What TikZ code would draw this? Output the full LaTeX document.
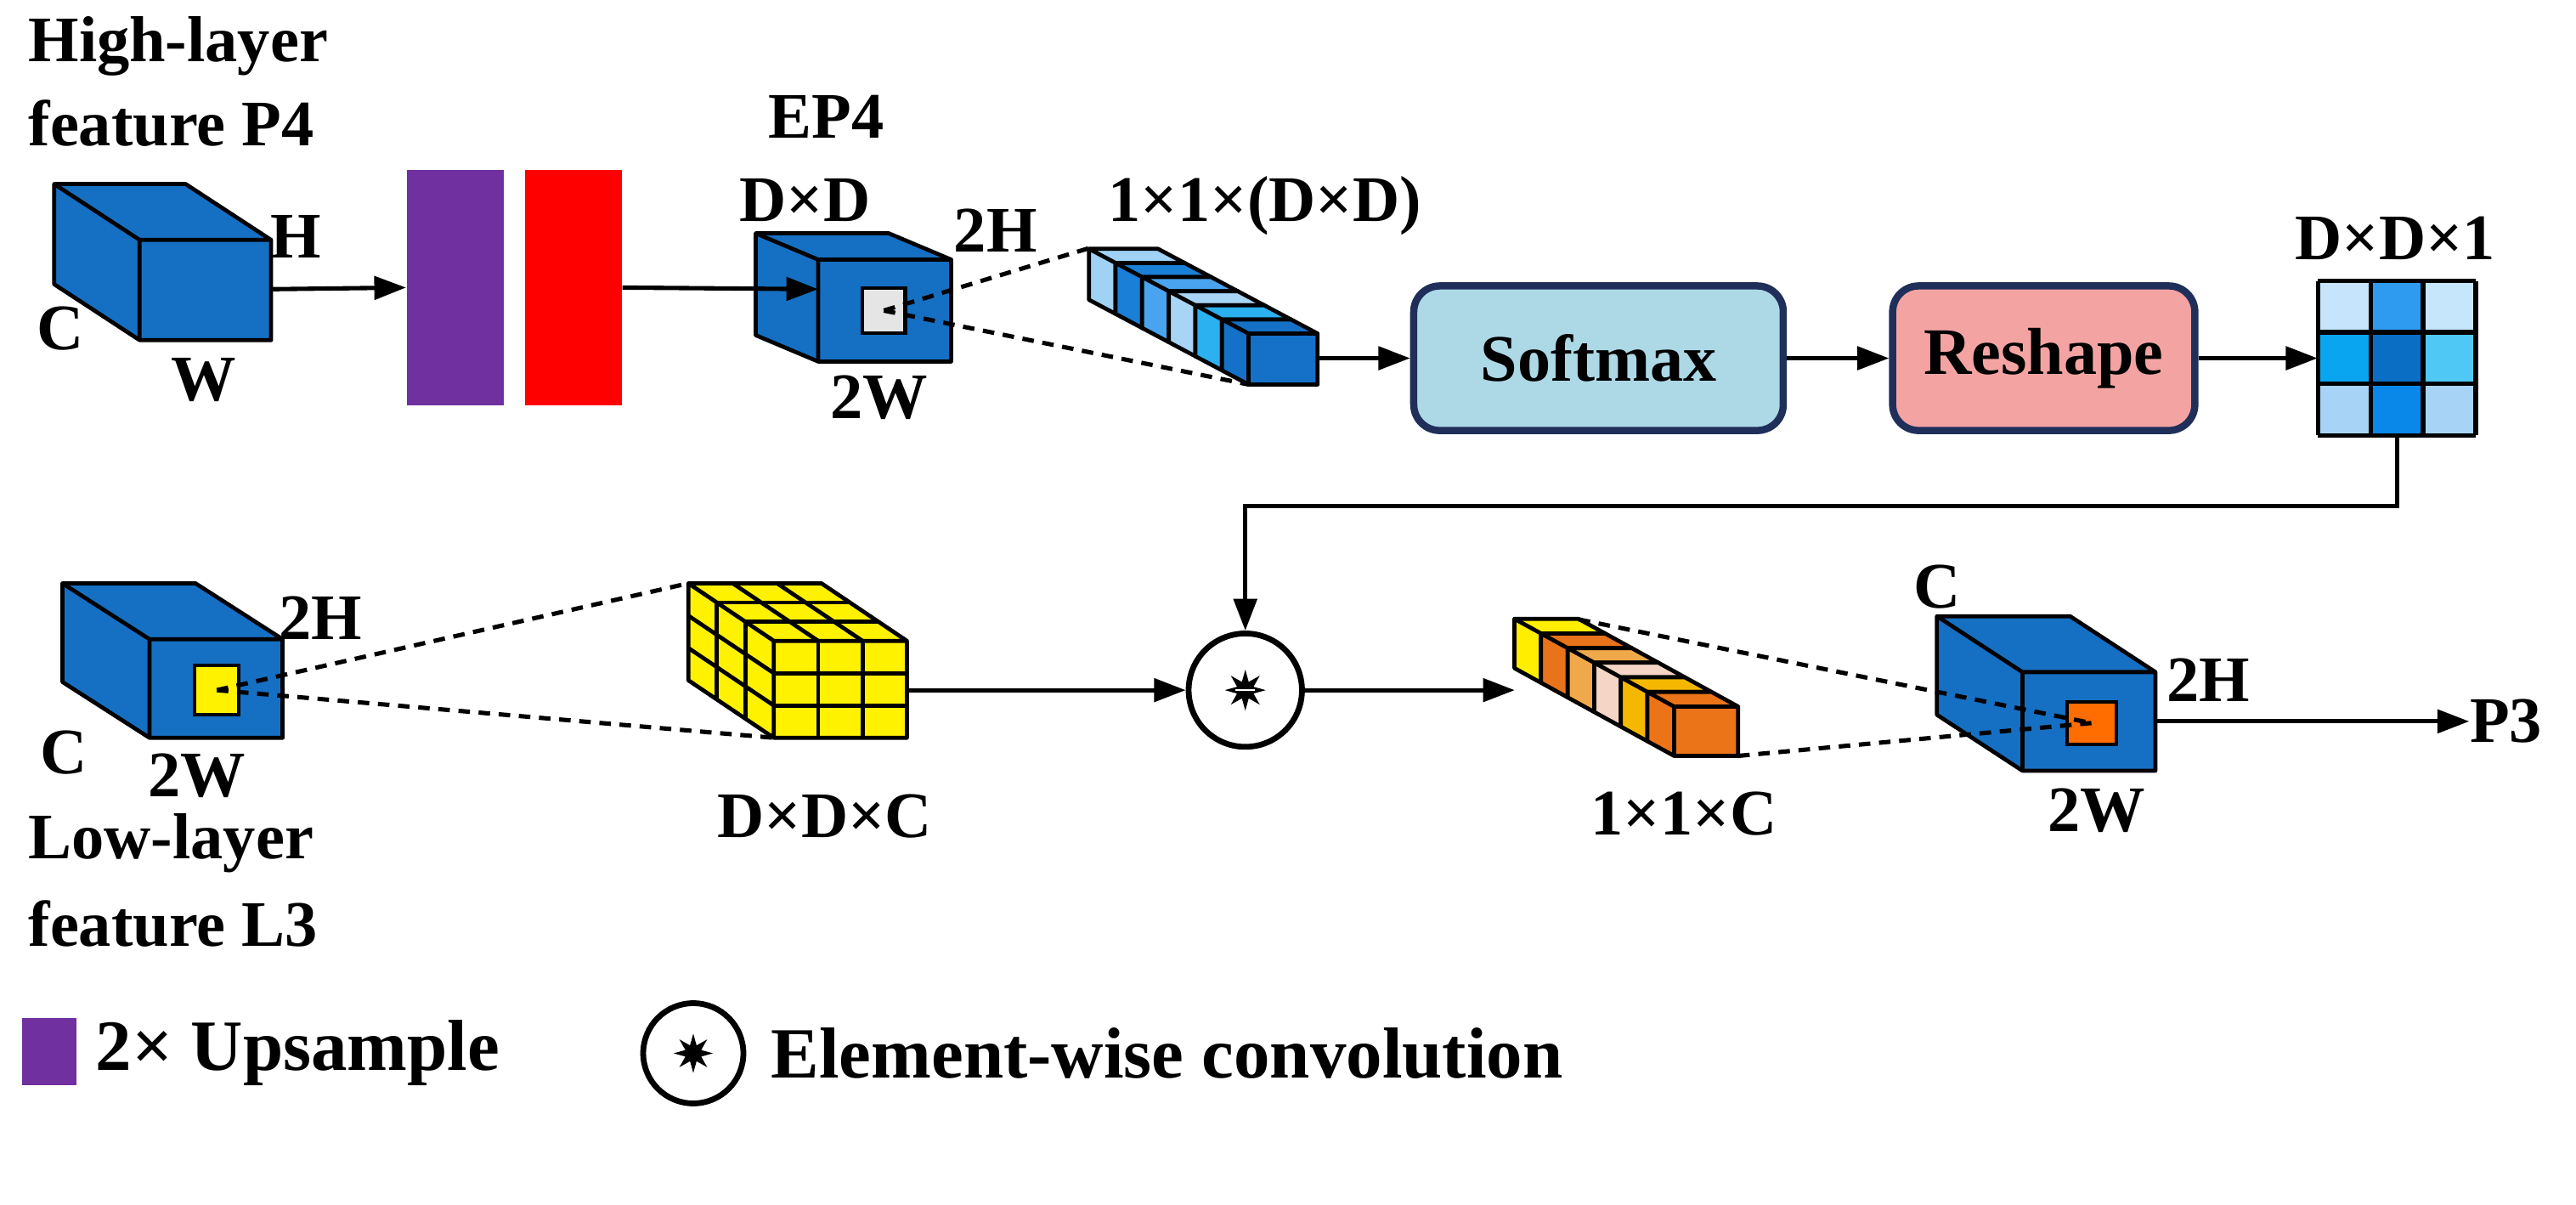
\documentclass[tikz,border=0pt]{standalone}
\usepackage{fontspec}
\setmainfont{Liberation Serif}
\usetikzlibrary{arrows.meta,shapes.geometric}
\definecolor{cubeblue}{HTML}{1570C4}
\definecolor{navy}{HTML}{1F2F5A}
\definecolor{upsp}{HTML}{7030A0}
\definecolor{softc}{HTML}{ADD8E6}
\definecolor{reshc}{HTML}{F4A3A3}
\newcommand\mycube[7]{% fx1 fy1 fx2 fy2 dx dy color
  \filldraw[fill=#7,draw=black,line width=1.4pt,line join=round]
   (#1-#5,#2-#6) -- (#3-#5,#2-#6) -- (#3,#2) -- (#1,#2) -- cycle
   (#1-#5,#2-#6) -- (#1,#2) -- (#1,#4) -- (#1-#5,#4-#6) -- cycle
   (#1,#2) rectangle (#3,#4);}
\begin{document}
\begin{tikzpicture}[x=0.02cm,y=-0.02cm,
  lbl/.style={font=\fontsize{22.5}{26}\selectfont\bfseries,inner sep=0pt},
  lgd/.style={font=\fontsize{25}{29}\selectfont\bfseries,inner sep=0pt},
  arr/.style={line width=1.5pt,-{Triangle[length=11pt,width=8pt]}},
  dsh/.style={line width=1.5pt,dash pattern=on 4pt off 3pt},
  box/.style={draw=navy,line width=2.5pt,rounded corners=9pt,minimum width=4.5cm,minimum height=1.76cm,font=\fontsize{23}{26}\selectfont\bfseries}]
\useasboundingbox (0,0) rectangle (1568,733);
% ---------- labels top-left
\node[lbl,anchor=west] (hl) at (17,28) {High-layer};
\node[lbl,anchor=west] (fp) at (17,75) {feature P4};
% P4 cube
\mycube{85}{146}{165}{207}{52}{34}{cubeblue}
\coordinate (p4r) at (165,176);
\node[lbl] (lH) at (180,144) {H};
\node[lbl] (lC) at (37,200) {C};
\node[lbl] (lW) at (124,231) {W};
% upsample & red
\node[fill=upsp,minimum width=1.18cm,minimum height=2.86cm,inner sep=0] (up) at (277,175) {};
\node[fill=red,minimum width=1.18cm,minimum height=2.86cm,inner sep=0] (rd) at (349,175) {};
\draw[arr] (p4r) -- (up.west);
% EP4 cube
\mycube{498}{158}{579}{220}{38}{16}{cubeblue}
\coordinate (ep4l) at (498,176);
\draw[arr] (rd.east) -- (ep4l);
\node[fill=gray!20,draw=black,line width=1.2pt,minimum width=0.52cm,minimum height=0.54cm,inner sep=0] (gs) at (538,189) {};
\node[lbl] (ep4) at (503,71) {EP4};
\node[lbl] (dd) at (490,122) {D×D};
\node[lbl] (l2h) at (606,140) {2H};
\node[lbl] (l2w) at (535,242) {2W};
% blue bar
\foreach \i/\c in {0/9FD2F5,1/1A7FD6,2/4AA3EE,3/A8D4F5,4/2BB0F0,5/1570C8}{
  \definecolor{tmp}{HTML}{\c}
  \pgfmathsetmacro\fx{760-(5-\i)*16.2}\pgfmathsetmacro\fy{203-(5-\i)*8.6}
  \mycube{\fx}{\fy}{\fx+42}{\fy+31}{16.2}{8.6}{tmp}}
\coordinate (bbTL) at (663,151);
\coordinate (bbBL) at (760,234);
\coordinate (bbR) at (802,218);
\draw[dsh] (gs.center) -- (bbTL);
\draw[dsh] (gs.center) -- (bbBL);
\node[lbl] (l11dd) at (770,125) {1×1×(D×D)};
% softmax/reshape
\node[box,fill=softc] (sm) at (973,218) {Softmax};
\node[box,fill=reshc,minimum width=3.68cm] (rs) at (1244,218) {Reshape};
\draw[arr] (bbR) -- (sm.west);
\draw[arr] (sm.east) -- (rs.west);
% grid
\foreach \r/\cl in {0/{C6E4FB,2E9BF0,C6E6FB},1/{0AA5F0,0A6FC4,4FC8F5},2/{A7D3F7,0A88EA,A7D3F7}}{
  \foreach \c [count=\k from 0] in \cl {
    \definecolor{tmp}{HTML}{\c}
    \fill[tmp] (1411+\k*32,171+\r*31.3) rectangle ++(32,31.3);}}
\foreach \t in {0,1,2,3}{
  \draw[line width=1.6pt] (1411+\t*32,171) -- ++(0,94);
  \draw[line width=1.6pt] (1411,171+\t*31.3) -- ++(96,0);}
\node[inner sep=0,minimum width=1.92cm,minimum height=1.88cm] (grid) at (1459,218) {};
\draw[arr] (rs.east) -- (grid.west);
\node[lbl] (ddd1) at (1458,145) {D×D×1};
% ---------- row 2
\node[lbl,anchor=west] (ll) at (17,513) {Low-layer};
\node[lbl,anchor=west] (fl) at (17,562) {feature L3};
\mycube{91}{389}{172}{449}{53}{34}{cubeblue}
\node[fill=yellow,draw=black,line width=1.2pt,minimum width=0.54cm,minimum height=0.6cm,inner sep=0] (ys) at (132,420) {};
\node[lbl] (r2h) at (195,376) {2H};
\node[lbl] (r2c) at (39,458) {C};
\node[lbl] (r2w) at (120,472) {2W};
% yellow rubik cube
\begin{scope}[line width=1.4pt,line join=round]
\mycube{471}{390}{552}{449}{52}{35}{yellow}
\foreach \t in {1,2}{
  \draw (471+\t*27,390) -- ++(-52,-35);
  \draw (471-\t*52/3,390-\t*35/3) -- ++(81,0);
  \draw (471,390+\t*59/3) -- ++(-52,-35);
  \draw (471-\t*52/3,390-\t*35/3) -- ++(0,59);
  \draw (471+\t*27,390) -- ++(0,59);
  \draw (471,390+\t*59/3) -- ++(81,0);}
\end{scope}
\coordinate (ycTL) at (419,355);
\coordinate (ycBL) at (471,449);
\coordinate (ycR) at (552,420);
\draw[dsh] (ys.center) -- (ycTL);
\draw[dsh] (ys.center) -- (ycBL);
\node[lbl] (ddc) at (502,497) {D×D×C};
% conv circle
\node[circle,draw,line width=2pt,fill=white,minimum size=1.38cm,inner sep=0] (cv) at (758,420) {};
\node[star,star points=8,star point ratio=2.3,draw,fill=black,line width=0.6pt,minimum size=0.42cm,inner sep=0] (cvs) at (cv.center) {};
\draw[white,line width=0.7pt] (cvs.center) ++(-6,0) -- ++(12,0);
\draw[arr] (ycR) -- (cv.west);
\draw[arr] (grid.south) |- (758,308) -- (cv.north);
% orange bar
\foreach \i/\c in {0/FFEE00,1/E8731A,2/F0A94A,3/F5D5C5,4/F5B800,5/EC7418}{
  \definecolor{tmp}{HTML}{\c}
  \pgfmathsetmacro\fx{1019-(5-\i)*16.2}\pgfmathsetmacro\fy{430-(5-\i)*8.9}
  \mycube{\fx}{\fy}{\fx+39}{\fy+30}{16.2}{8.9}{tmp}}
\coordinate (obL) at (922,420);
\coordinate (obTR) at (961,377);
\coordinate (obBR) at (1058,460);
\draw[arr] (cv.east) -- (obL);
\node[lbl] (l11c) at (1025,495) {1×1×C};
% P3 cube
\mycube{1231}{409}{1312}{469}{52}{34}{cubeblue}
\node[fill=orange!85!red,draw=black,line width=1.2pt,minimum width=0.6cm,minimum height=0.52cm,inner sep=0] (os) at (1273,440) {};
\draw[dsh] (obTR) -- (os.center);
\draw[dsh] (obBR) -- (os.center);
\node[lbl] (p3c) at (1179,357) {C};
\node[lbl] (p32h) at (1344,414) {2H};
\node[lbl] (p32w) at (1276,493) {2W};
\node[lbl,anchor=west] (p3) at (1503,439) {P3};
\draw[arr] (1312,439) -- (p3.west);
% legend
\node[fill=upsp,minimum width=0.66cm,minimum height=0.82cm,inner sep=0] (lgu) at (30,640) {};
\node[lbl,anchor=west] (lgut) at (58,641) {\fontsize{25}{29}\selectfont 2× Upsample};
\node[circle,draw,line width=2pt,minimum size=1.22cm,inner sep=0] (lgc) at (422,641) {};
\node[star,star points=8,star point ratio=2.3,draw,fill=black,line width=0.6pt,minimum size=0.4cm,inner sep=0] at (lgc.center) {};
\node[lbl,anchor=west] (lgct) at (469,641) {\fontsize{25}{29}\selectfont Element-wise convolution};
\end{tikzpicture}
\end{document}
